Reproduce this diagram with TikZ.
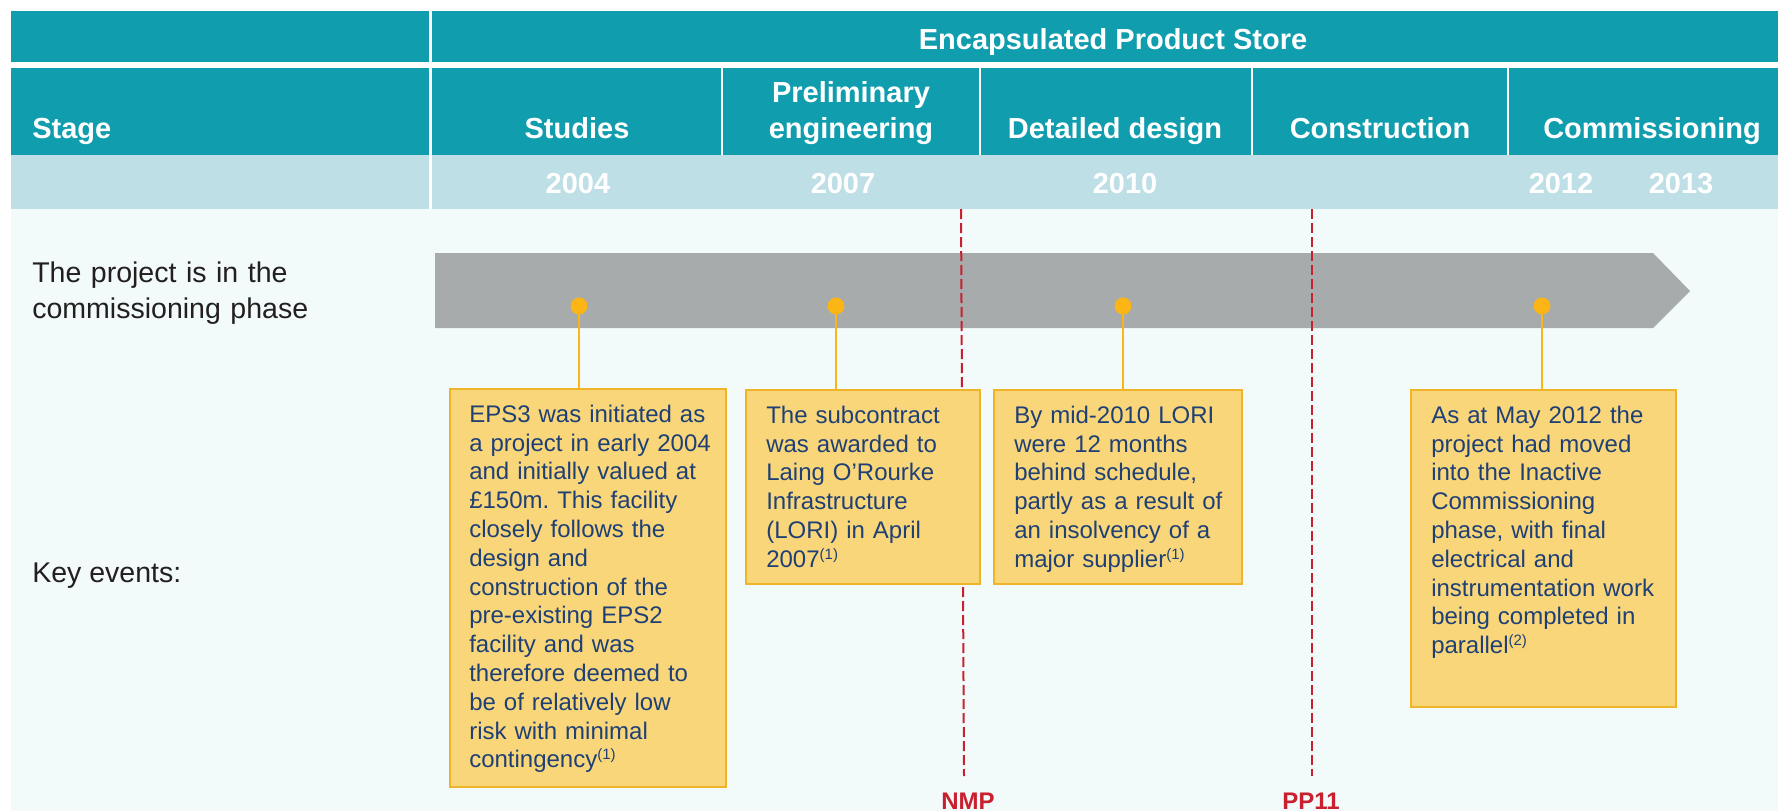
\documentclass[tikz,border=0pt]{standalone}
\usepackage{fontspec}
\setmainfont{Liberation Sans}
\frenchspacing
\definecolor{hdrteal}{HTML}{109DAE}
\definecolor{yrband}{HTML}{BDDFE5}
\definecolor{panelbg}{HTML}{F2FAFA}
\definecolor{barGrey}{HTML}{A8ABAC}
\definecolor{boxFill}{HTML}{F9D679}
\definecolor{boxLine}{HTML}{F0B428}
\definecolor{dotYel}{HTML}{FBB616}
\definecolor{dashRed}{HTML}{C8202F}
\definecolor{navyTxt}{HTML}{1F4075}
\definecolor{labelTxt}{HTML}{231F20}
\newcommand\evnote[1]{\raisebox{6pt}{\fontsize{11.25pt}{12pt}\selectfont #1}}
\begin{document}
\begin{tikzpicture}[x=0.75pt,y=-0.75pt,
  hdr/.style={text=white, inner sep=0, font=\fontsize{21.75pt}{27pt}\selectfont\bfseries},
  yr/.style={text=white, inner sep=0, font=\fontsize{21.75pt}{27pt}\selectfont\bfseries},
  lbl/.style={text=labelTxt, inner sep=0, font=\fontsize{21.4pt}{27pt}\selectfont},
  redlbl/.style={text=dashRed, inner sep=0, font=\fontsize{18pt}{21.6pt}\selectfont\bfseries},
  reddash/.style={draw=dashRed, line width=1.5pt, dash pattern=on 7.5pt off 3pt},
  evbox/.style={draw=boxLine, fill=boxFill, line width=1.3pt, inner sep=0, outer sep=0, anchor=north west},
  evtext/.style={text=navyTxt, inner sep=0, anchor=north west, align=left, font=\fontsize{18pt}{21.6pt}\selectfont},
  evdot/.style={circle, fill=dotYel, inner sep=0, minimum size=12.5pt},
  conn/.style={draw=dotYel, line width=1.3pt}
]
\useasboundingbox (0,0) rectangle (1778,811);
\clip (0,0) rectangle (1778,811);
% backgrounds
\fill[white] (0,0) rectangle (1778,811);
\fill[panelbg] (11,209) rectangle (1778,811);
\fill[hdrteal] (11,11) rectangle (429,62);
\fill[hdrteal] (432,11) rectangle (1778,62);
\fill[hdrteal] (11,68) rectangle (429,155);
\fill[hdrteal] (432,68) rectangle (1778,155);
\fill[yrband] (11,155) rectangle (429,209);
\fill[yrband] (432,155) rectangle (1778,209);
\foreach \xx in {722,980,1252,1508} \fill[white] (\xx-1,62) rectangle (\xx+1,155);
% header texts
\node[hdr, anchor=base] (eps) at (1113,49) {Encapsulated Product Store};
\node[hdr, anchor=base west] (stage) at (32,138) {Stage};
\node[hdr, anchor=base] (studies) at (577,138) {Studies};
\node[hdr, anchor=north, align=center, text width=187pt] (prelim) at (851,80) {\rule{0pt}{16.5pt}Preliminary\\engineering};
\node[hdr, anchor=base] (detailed) at (1115,138) {Detailed design};
\node[hdr, anchor=base] (constr) at (1380,138) {Construction};
\node[hdr, anchor=base] (commis) at (1652,138) {Commissioning};
% years
\node[yr, anchor=base] (y2004) at (578,193) {2004};
\node[yr, anchor=base] (y2007) at (843,193) {2007};
\node[yr, anchor=base] (y2010) at (1125,193) {2010};
\node[yr, anchor=base] (y2012) at (1561,193) {2012};
\node[yr, anchor=base] (y2013) at (1681,193) {2013};
% left labels
\node[lbl, anchor=north west, align=left, text width=285pt] (phase) at (32,260) {\rule{0pt}{16.5pt}The project is in the\\commissioning phase};
\node[lbl, anchor=base west] (keyev) at (32,582) {Key events:};
% timeline bar
\fill[barGrey] (435,253) -- (1653,253) -- (1690,291) -- (1653,328) -- (435,328) -- cycle;
% milestones
\coordinate (nmpTop) at (961,209);
\coordinate (nmpBot) at (964,776);
\coordinate (ppTop) at (1312,209);
\coordinate (ppBot) at (1312,776);
\draw[reddash] (nmpTop) -- (nmpBot);
\draw[reddash] (ppTop) -- (ppBot);
\node[redlbl, anchor=base] (nmp) at (968,809) {NMP};
\node[redlbl, anchor=base] (pp11) at (1311,809) {PP11};
% dots
\node[evdot] (d1) at (579,306) {};
\node[evdot] (d2) at (836,306) {};
\node[evdot] (d3) at (1123,306) {};
\node[evdot] (d4) at (1542,306) {};
% boxes
\node[evbox, minimum width=207pt, minimum height=298.5pt] (box1) at (450,389) {};
\node[evbox, minimum width=175.5pt, minimum height=145.5pt] (box2) at (746,390) {};
\node[evbox, minimum width=186pt, minimum height=145.5pt] (box3) at (994,390) {};
\node[evbox, minimum width=198.75pt, minimum height=237.75pt] (box4) at (1411,390) {};
% connectors
\draw[conn] (d1.center) -- (d1.center |- box1.north);
\draw[conn] (d2.center) -- (d2.center |- box2.north);
\draw[conn] (d3.center) -- (d3.center |- box3.north);
\draw[conn] (d4.center) -- (d4.center |- box4.north);
\node[evdot] at (d1) {};
\node[evdot] at (d2) {};
\node[evdot] at (d3) {};
\node[evdot] at (d4) {};
% box texts
\node[evtext, text width=190pt] (t1) at ([shift={(19,15)}]box1.north west) {\rule{0pt}{13.5pt}EPS3 was initiated as\\a project in early 2004\\and initially valued at\\£150m. This facility\\closely follows the\\design and\\construction of the\\pre-existing EPS2\\facility and was\\therefore deemed to\\be of relatively low\\risk with minimal\\contingency\evnote{(1)}};
\node[evtext, text width=160pt] (t2) at ([shift={(20,15)}]box2.north west) {\rule{0pt}{13.5pt}The subcontract\\was awarded to\\Laing O’Rourke\\Infrastructure\\(LORI) in April\\2007\evnote{(1)}};
\node[evtext, text width=170pt] (t3) at ([shift={(20,15)}]box3.north west) {\rule{0pt}{13.5pt}By mid-2010 LORI\\were 12 months\\behind schedule,\\partly as a result of\\an insolvency of a\\major supplier\evnote{(1)}};
\node[evtext, text width=185pt] (t4) at ([shift={(20,15)}]box4.north west) {\rule{0pt}{13.5pt}As at May 2012 the\\project had moved\\into the Inactive\\Commissioning\\phase, with final\\electrical and\\instrumentation work\\being completed in\\parallel\evnote{(2)}};
\end{tikzpicture}
\end{document}
